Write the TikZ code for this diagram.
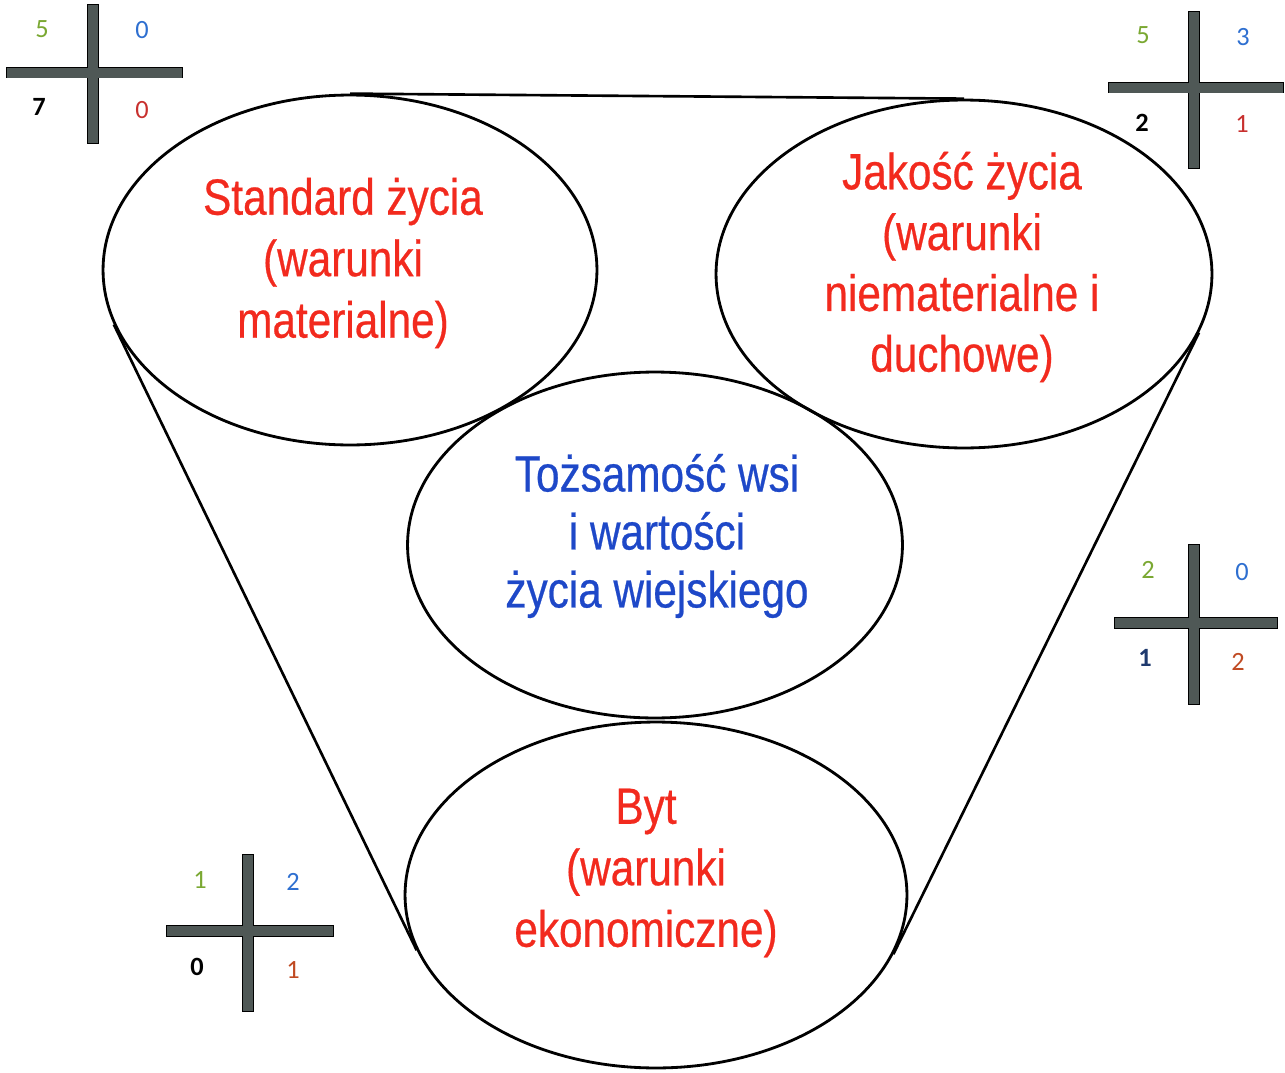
\documentclass[tikz,border=0pt]{standalone}
\usepackage{fontspec}
\usetikzlibrary{shapes.geometric}
\newfontfamily\narrowfont{Liberation Sans}[FakeStretch=0.83,FakeBold=0.5]
\newfontfamily\numfont{Carlito}
\definecolor{redtxt}{HTML}{F22A1E}
\definecolor{bluetxt}{HTML}{1E48C8}
\definecolor{ngreen}{HTML}{7AA832}
\definecolor{nblue}{HTML}{2E6FD0}
\definecolor{nred}{HTML}{C8302E}
\definecolor{nnavy}{HTML}{1F3A6E}
\definecolor{nbrown}{HTML}{C04A22}
\definecolor{barfill}{HTML}{4F5856}
\begin{document}
\begin{tikzpicture}[x=0.02cm,y=-0.02cm,
  oval/.style={ellipse, draw=black, line width=1.6pt, inner sep=0pt},
  lbl/.style={align=center, font=\narrowfont\fontsize{29}{35}\selectfont, inner sep=0pt},
  num/.style={font=\numfont\fontsize{15}{18}\selectfont, inner sep=0pt},
  numb/.style={num, font=\numfont\bfseries\fontsize{15}{18}\selectfont},
  tangent/.style={line width=1.5pt}]
\useasboundingbox (0,0) rectangle (1285,1072);

% ellipses
\node[oval, minimum width=9.88cm, minimum height=7.0cm] (std) at (350,270) {};
\node[oval, minimum width=9.92cm, minimum height=6.96cm] (jak) at (964,274) {};
\node[oval, minimum width=9.9cm, minimum height=6.92cm] (toz) at (655,545) {};
\node[oval, minimum width=10.04cm, minimum height=6.92cm] (byt) at (656,895) {};

% connecting lines
\draw[tangent] (std.north) -- (jak.north);
\draw[tangent] (std.193.5) -- (byt.193.5);
\draw[tangent] (jak.346.4) -- (byt.346.4);

% texts
\node[lbl, text=redtxt] (tstd) at (343,263) {Standard życia\\(warunki\\materialne)};
\node[lbl, text=redtxt, font=\narrowfont\fontsize{29}{34.6}\selectfont] (tjak) at (962,267) {Jakość życia\\(warunki\\niematerialne i\\duchowe)};
\node[lbl, text=bluetxt, font=\narrowfont\fontsize{29}{33}\selectfont] (ttoz) at (657,536) {Tożsamość wsi\\i wartości\\życia wiejskiego};
\node[lbl, text=redtxt] (tbyt) at (646,873) {Byt\\(warunki\\ekonomiczne)};

% crosses
\foreach \hx/\hxx/\hy/\vx/\vy/\vyy in {7/182/72.5/93/5/143, 1109/1283/87.5/1194/12/168, 1115/1277/623/1194/545/704, 167/333/931/248/855/1011}{
  \filldraw[fill=barfill, draw=black, line width=0.8pt] (\hx,\hy-5) rectangle (\hxx,\hy+5);
  \filldraw[fill=barfill, draw=black, line width=0.8pt] (\vx-5,\vy) rectangle (\vx+5,\vyy);
  \fill[barfill] (\hx,\hy-5) rectangle (\hxx,\hy+5);
  \fill[barfill] (\vx-5,\vy) rectangle (\vx+5,\vyy);
}

% numbers
\node[num, text=ngreen] (a1) at (42,29) {5};
\node[num, text=nblue] (a2) at (142,30) {0};
\node[numb, text=black] (a3) at (39,107) {7};
\node[num, text=nred] (a4) at (142,110) {0};

\node[num, text=ngreen] (b1) at (1143,35) {5};
\node[num, text=nblue] (b2) at (1243,37) {3};
\node[numb, text=black] (b3) at (1142,123) {2};
\node[num, text=nred] (b4) at (1242,124) {1};

\node[num, text=ngreen] (c1) at (1148,570) {2};
\node[num, text=nblue] (c2) at (1242,572) {0};
\node[numb, text=nnavy] (c3) at (1145,658) {1};
\node[num, text=nbrown] (c4) at (1238,662) {2};

\node[num, text=ngreen] (d1) at (200,880) {1};
\node[num, text=nblue] (d2) at (293,882) {2};
\node[numb, text=black] (d3) at (197,967) {0};
\node[num, text=nbrown] (d4) at (293,970) {1};
\end{tikzpicture}
\end{document}
